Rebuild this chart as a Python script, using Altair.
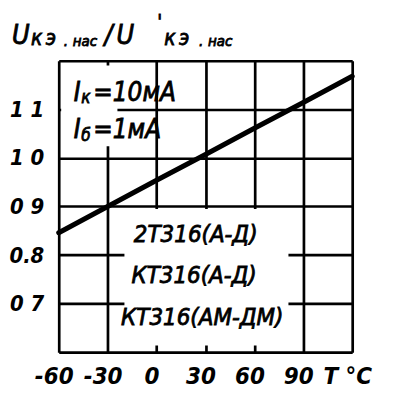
import altair as alt
import pandas as pd

# curve: Uкэ.нас/U'кэ.нас vs temperature
temps = [-60, -30, 0, 30, 60, 90, 120]
ratio = [0.846, 0.900, 0.954, 1.007, 1.061, 1.114, 1.168]

x_ticks = [-60, -30, 0, 30, 60, 90, 120]
x_tick_labels = ["-60", "-30", "0", "30", "60", "90", "T °C"]
y_ticks = [0.6, 0.7, 0.8, 0.9, 1.0, 1.1, 1.2]
y_tick_labels = ["", "0 7", "0.8", "0 9", "1 0", "1 1", ""]

# annotation texts (data coordinates)
ann_text = ["I", "к", "=10мА", "I", "б", "=1мА"]
ann_t = [-50.8, -46.2, -38.8, -50.8, -46.2, -38.8]
ann_v = [1.118, 1.113, 1.118, 1.040, 1.035, 1.040]
ann_size = [26, 17, 26, 26, 17, 26]

dev_text = ["2Т316(А-Д)", "КТ316(А-Д)", "КТ316(АМ-ДМ)"]
dev_t = [24.0, 23.0, 28.0]
dev_v = [0.827, 0.743, 0.657]

# white boxes behind the labels (data coordinates)
box_t1 = [-58.5, -19.7]
box_t2 = [-24.0, 80.9]
box_v1 = [1.190, 0.895]
box_v2 = [1.024, 0.614]

FONT = "DejaVu Sans Condensed"
TXT = dict(font=FONT, fontStyle="italic", color="black", stroke="black",
           strokeWidth=0.8, baseline="alphabetic")

df = pd.DataFrame({"T": temps, "R": ratio})
ann = pd.DataFrame({"text": ann_text, "T": ann_t, "R": ann_v, "size": ann_size})
dev = pd.DataFrame({"text": dev_text, "T": dev_t, "R": dev_v})
boxes = pd.DataFrame({"t1": box_t1, "t2": box_t2, "v1": box_v1, "v2": box_v2})

xs = alt.Scale(domain=[-60, 120], nice=False, zero=False)
ys = alt.Scale(domain=[0.6, 1.2], nice=False, zero=False)

def lab_expr(vals, labs):
    v = "[" + ",".join(str(a) for a in vals) + "]"
    l = "[" + ",".join("'" + s + "'" for s in labs) + "]"
    return f"{l}[indexof({v}, datum.value)]"

x_axis = alt.Axis(values=x_ticks, labelExpr=lab_expr(x_ticks, x_tick_labels),
                  title=None, grid=True, gridColor="black", gridWidth=2.7, gridOpacity=1,
                  ticks=False, domain=False, labelFont=FONT, labelFontStyle="italic",
                  labelFontWeight="bold",
                  labelFontSize=24, labelColor="black", labelPadding=12, labelOffset=-5,
                  labelFlush=False, labelOverlap=False)
y_axis = alt.Axis(values=y_ticks, labelExpr=lab_expr(y_ticks, y_tick_labels),
                  title=None, grid=True, gridColor="black", gridWidth=2.7, gridOpacity=1,
                  ticks=False, domain=False, labelFont=FONT, labelFontStyle="italic",
                  labelFontWeight="bold",
                  labelFontSize=22, labelColor="black", labelPadding=15,
                  labelFlush=False, labelOverlap=False)

base_grid = alt.Chart(df).mark_point(opacity=0).encode(
    x=alt.X("T:Q", scale=xs, axis=x_axis),
    y=alt.Y("R:Q", scale=ys, axis=y_axis),
)

masks = alt.Chart(boxes).mark_rect(fill="white").encode(
    x=alt.X("t1:Q", scale=xs), x2="t2:Q",
    y=alt.Y("v1:Q", scale=ys), y2="v2:Q",
)

curve = alt.Chart(df).mark_line(color="black", strokeWidth=5, strokeCap="round").encode(
    x=alt.X("T:Q", scale=xs), y=alt.Y("R:Q", scale=ys)
)

ann_marks = alt.Chart(ann).mark_text(align="left", **TXT).encode(
    x=alt.X("T:Q", scale=xs), y=alt.Y("R:Q", scale=ys), text="text:N",
    size=alt.Size("size:Q", scale=None, legend=None),
)

dev_marks = alt.Chart(dev).mark_text(align="center", fontSize=24, **TXT).encode(
    x=alt.X("T:Q", scale=xs), y=alt.Y("R:Q", scale=ys), text="text:N",
)

# axis title pieces: Uкэ.нас / U'кэ.нас (pixel offsets from plot origin)
title_text = ["U", "к", "э", ".", "нас", "/", "U", "'", "к", "э", ".", "нас"]
title_x = [-47, -28, -13, 5, 14, 46, 58, 99, 106, 121, 141, 150]
title_y = [-17, -16, -16, -15, -15, -17, -17, -33, -16, -16, -15, -15]
title_size = [27, 21, 21, 15, 15, 27, 27, 20, 21, 21, 15, 15]
tdf = pd.DataFrame({"text": title_text, "px": title_x, "py": title_y, "size": title_size})
title_marks = alt.Chart(tdf).mark_text(align="left", **TXT).encode(
    x=alt.X("px:Q", scale=None), y=alt.Y("py:Q", scale=None), text="text:N",
    size=alt.Size("size:Q", scale=None, legend=None),
)

chart = alt.layer(base_grid, masks, curve, ann_marks, dev_marks, title_marks).properties(
    width=295, height=293,
    autosize=alt.AutoSizeParams(type="none"),
    padding={"left": 51, "top": 52, "right": 36, "bottom": 40},
).configure_view(stroke="black", strokeWidth=3).configure(background="white")

chart.save("out.html", embed_options={"renderer": "svg", "actions": False})
